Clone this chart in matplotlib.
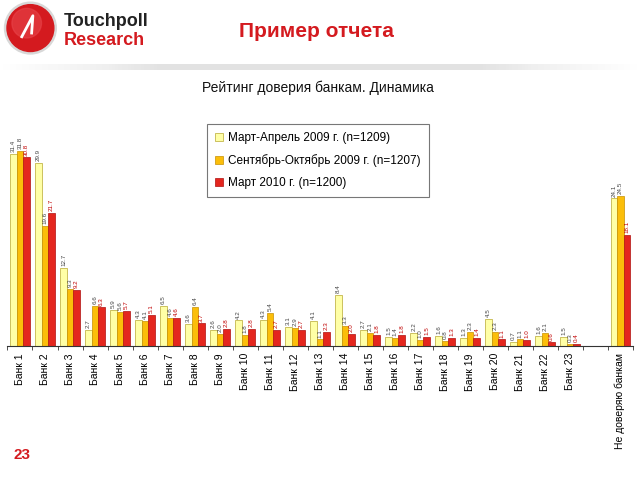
import numpy as np
import matplotlib
matplotlib.use('Agg')
import matplotlib.pyplot as plt
from matplotlib.patches import Circle

plt.rcParams['font.family'] = ['Liberation Sans', 'DejaVu Sans']

# === данные ===
categories = ['Банк %d' % i for i in range(1, 24)] + ['', 'Не доверяю банкам']
series_names = ['Март-Апрель 2009 г. (n=1209)',
                'Сентябрь-Октябрь 2009 г. (n=1207)',
                'Март 2010 г. (n=1200)']
spring_2009 = [31.4, 29.9, 12.7, 2.7, 5.9, 4.3, 6.5, 3.6, 2.6, 4.2, 4.3, 3.1, 4.1,
               8.4, 2.7, 1.5, 2.2, 1.6, 1.3, 4.5, 0.7, 1.6, 1.5, None, 24.1]
autumn_2009 = [31.8, 19.6, 9.3, 6.6, 5.6, 4.1, 4.6, 6.4, 2.0, 1.8, 5.4, 2.9, 1.1,
               3.3, 2.1, 1.4, 1.0, 0.8, 2.3, 2.3, 1.1, 2.1, 0.3, None, 24.5]
spring_2010 = [30.8, 21.7, 9.2, 6.3, 5.7, 5.1, 4.6, 3.7, 2.8, 2.8, 2.7, 2.7, 2.3,
               2.0, 1.8, 1.8, 1.5, 1.3, 1.4, 1.1, 1.0, 0.6, 0.4, None, 18.1]

colors = ['#FFFFA6', '#FBBE0A', '#E4261E']
edges = ['#B8A830', '#C89000', '#B01010']
label_colors = ['#444444', '#444444', '#C00000']

fig = plt.figure(figsize=(6.4, 4.8), dpi=100)

# === шапка ===
logo = fig.add_axes([0.005, 0.885, 0.085, 0.113])
logo.set_xlim(-1.1, 1.1)
logo.set_ylim(-1.1, 1.1)
logo.set_aspect('equal')
logo.axis('off')
logo.add_patch(Circle((0, 0), 1.05, color='#D8D8D8'))
logo.add_patch(Circle((0, 0), 0.95, color='#D41A1F'))
logo.add_patch(Circle((-0.15, 0.2), 0.6, color='#E8444A', alpha=0.6))
logo.plot([-0.35, 0.1, 0.05], [-0.35, 0.5, -0.2], color='white', lw=2)

fig.text(0.1, 0.955, 'Touchpoll', fontsize=13, fontweight='bold', color='#222222',
         va='center')
fig.text(0.1, 0.915, 'Research', fontsize=13, fontweight='bold', color='#D41A1F',
         va='center')
fig.text(0.495, 0.935, 'Пример отчета', fontsize=15, fontweight='bold',
         color='#D41A1F', ha='center', va='center')

line_ax = fig.add_axes([0.0, 0.855, 1.0, 0.012])
grad = np.linspace(0, 1, 200)
grad = np.minimum(grad * 4, 1) * np.minimum((1 - grad) * 4, 1)
line_ax.imshow(grad[np.newaxis, :], aspect='auto', cmap='Greys', vmin=0, vmax=5)
line_ax.axis('off')

fig.text(0.497, 0.817, 'Рейтинг доверия банкам. Динамика', fontsize=10,
         color='#111111', ha='center', va='center')
fig.text(0.035, 0.052, '23', fontsize=11, fontweight='bold', color='#D41A1F',
         ha='center', va='center')

# === диаграмма ===
ax = fig.add_axes([0.0117, 0.279, 0.977, 0.434])
x = np.arange(len(categories))
w = 0.26
for k, vals in enumerate([spring_2009, autumn_2009, spring_2010]):
    pos = [xi + (k - 1) * w for xi, v in zip(x, vals) if v is not None]
    hv = [v for v in vals if v is not None]
    ax.bar(pos, hv, width=w, color=colors[k], edgecolor=edges[k], linewidth=0.5,
           label=series_names[k])
    for p, v in zip(pos, hv):
        ax.text(p, v + 0.3, '%.1f' % v, rotation=90, fontsize=4.5,
                color=label_colors[k], ha='center', va='bottom')

ax.set_xlim(-0.5, len(categories) - 0.5)
ax.set_ylim(0, 34)
for s in ['top', 'right', 'left']:
    ax.spines[s].set_visible(False)
ax.spines['bottom'].set_color('#333333')
ax.set_yticks([])
ax.set_xticks(np.arange(len(categories) + 1) - 0.5, minor=True)
ax.tick_params(axis='x', which='minor', length=3, color='#333333')
ax.set_xticks(x)
ax.set_xticklabels(categories, rotation=90, fontsize=7.5)
ax.tick_params(axis='x', which='major', length=0, pad=5)

leg = ax.legend(loc='lower left', bbox_to_anchor=(0.319, 0.715), fontsize=8.5,
                frameon=True, fancybox=False, handlelength=0.7, handleheight=0.7,
                handletextpad=0.4, labelspacing=0.85, borderpad=0.7,
                borderaxespad=0)
leg.get_frame().set_edgecolor('#555555')
leg.get_frame().set_linewidth(0.8)

fig.savefig('out.png', dpi=100)
